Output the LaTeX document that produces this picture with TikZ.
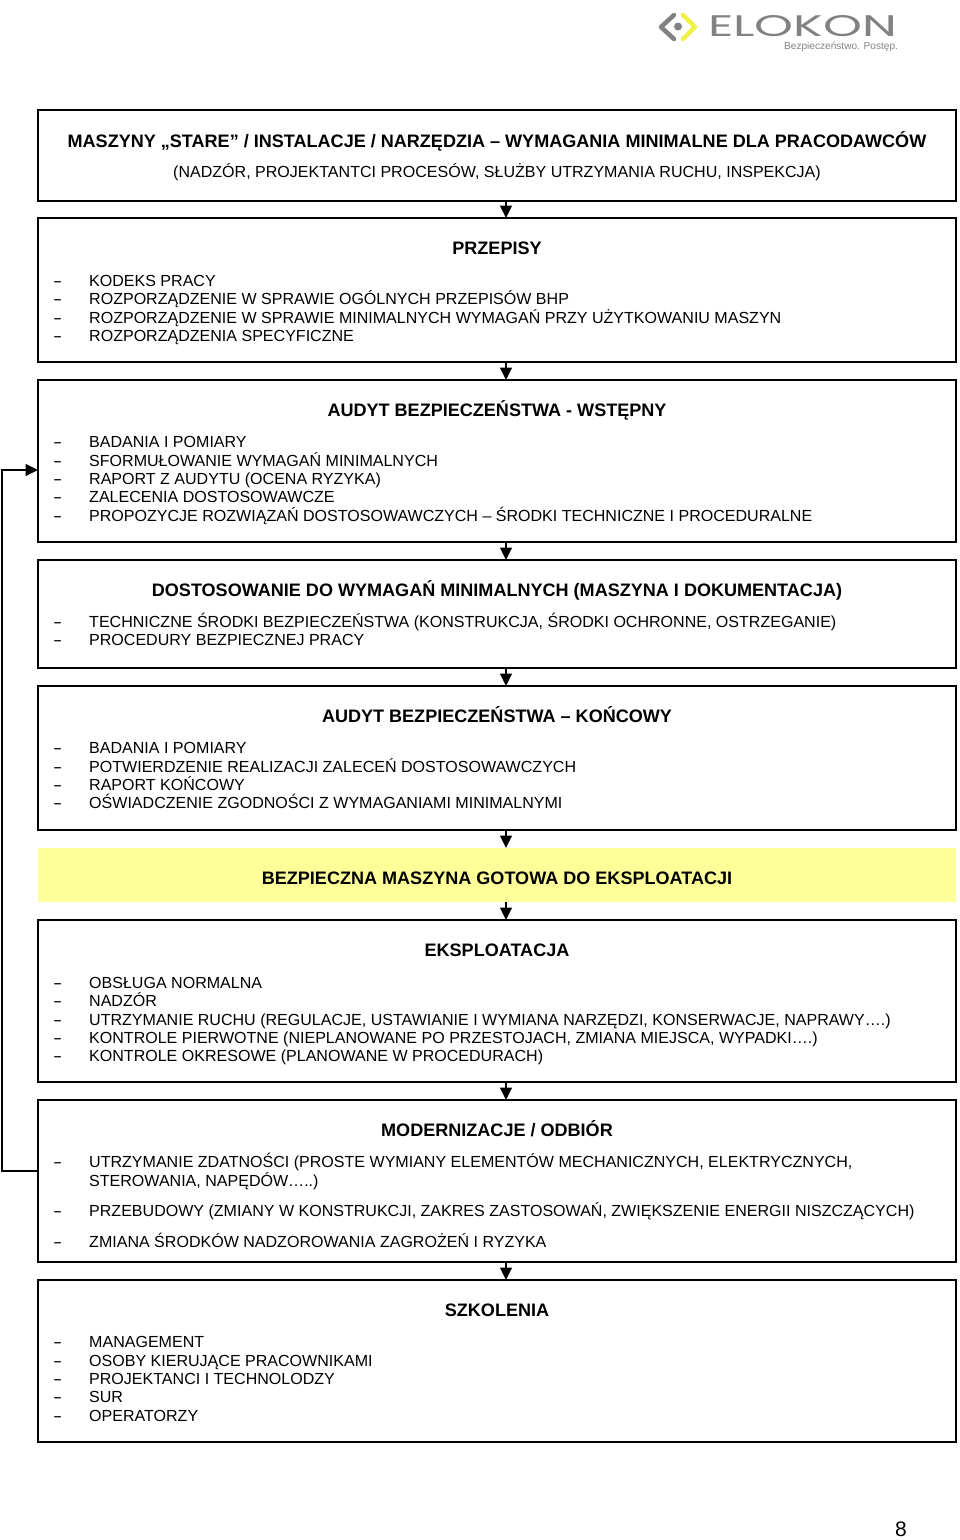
\documentclass[tikz,border=0pt]{standalone}
\usepackage{fontspec}
\setmainfont{Liberation Sans}
\newfontfamily\logofont{Poppins}
\usetikzlibrary{arrows.meta}
\definecolor{logogrey}{RGB}{130,130,130}
\definecolor{logoyel}{RGB}{240,240,70}
\definecolor{boxyel}{RGB}{255,255,153}
\tikzset{
 stepbox/.style={draw=black,line width=1.5pt,fill=white,anchor=north west,minimum width=918pt,inner sep=0pt,outer sep=0pt},
 goalbox/.style={stepbox,draw=none,fill=boxyel},
 arr/.style={line width=1.5pt,-{Triangle[length=12.5pt,width=12pt]}},
 head/.style={font=\fontsize{18.05}{18}\selectfont\bfseries,anchor=base,inner sep=0pt},
 sub/.style={font=\fontsize{16.04}{16}\selectfont,anchor=base,inner sep=0pt},
 itm/.style={font=\fontsize{16.04}{16}\selectfont,anchor=base west,inner sep=0pt},
}
\newcommand\li[3]{\node[itm] (#1d) at (53,#2) {\scalebox{1.7}[1]{-}};\node[itm] (#1) at (89,#2) {#3};}
\newcommand\bx[4][stepbox]{\node[#1,minimum height=#4pt] (#2) at (38,#3) {};}
\begin{document}
\begin{tikzpicture}[x=1pt,y=-1pt]
\useasboundingbox (0,0) rectangle (960,1540);
% logo
\draw[logogrey,line width=4.5pt,line cap=round,line join=round] (674,15) -- (661,27) -- (674,39);
\draw[logoyel,line width=4.5pt,line cap=round,line join=round] (683,15) -- (695,27) -- (683,39);
\fill[logogrey] (678,26.5) circle (4);
\node[anchor=south west,inner sep=0pt,text=logogrey] (logo) at (708,36.5) {\resizebox{189pt}{21pt}{\logofont ELOKON}};
\node[anchor=base west,inner sep=0pt,text=logogrey,font=\fontsize{10.1}{10}\selectfont] (tag) at (784,49.5) {Bezpieczeństwo. Postęp.};
% boxes
\bx{b1}{110}{91}
\bx{b2}{218}{144}
\bx{b3}{380}{162}
\bx{b4}{560}{108}
\bx{b5}{686}{144}
\bx[goalbox]{b6}{848}{54}
\bx{b7}{920}{162}
\bx{b8}{1100}{162}
\bx{b9}{1280}{162}
% arrows
\coordinate (ax) at (506,0);
\foreach \a/\b in {b1/b2,b2/b3,b3/b4,b4/b5,b5/b6,b6/b7,b7/b8,b8/b9}
  \draw[arr] (\a.south -| ax) -- (\b.north -| ax);
\coordinate (backout) at (38,1171);
\coordinate (backin) at (38,470);
\draw[arr] (backout) -- (2,1171) |- (backin);
% box 1
\node[head] (t1) at (497,147) {MASZYNY „STARE” / INSTALACJE / NARZĘDZIA – WYMAGANIA MINIMALNE DLA PRACODAWCÓW};
\node[sub] (t1b) at (497,177) {(NADZÓR, PROJEKTANTCI PROCESÓW, SŁUŻBY UTRZYMANIA RUCHU, INSPEKCJA)};
% box 2
\node[head] (t2) at (497,254) {PRZEPISY};
\li{a1}{286}{KODEKS PRACY}
\li{a2}{304}{ROZPORZĄDZENIE W SPRAWIE OGÓLNYCH PRZEPISÓW BHP}
\li{a3}{323}{ROZPORZĄDZENIE W SPRAWIE MINIMALNYCH WYMAGAŃ PRZY UŻYTKOWANIU MASZYN}
\li{a4}{341}{ROZPORZĄDZENIA SPECYFICZNE}
% box 3
\node[head] (t3) at (497,416) {AUDYT BEZPIECZEŃSTWA - WSTĘPNY};
\li{c1}{447}{BADANIA I POMIARY}
\li{c2}{466}{SFORMUŁOWANIE WYMAGAŃ MINIMALNYCH}
\li{c3}{484}{RAPORT Z AUDYTU (OCENA RYZYKA)}
\li{c4}{502}{ZALECENIA DOSTOSOWAWCZE}
\li{c5}{521}{PROPOZYCJE ROZWIĄZAŃ DOSTOSOWAWCZYCH – ŚRODKI TECHNICZNE I PROCEDURALNE}
% box 4
\node[head] (t4) at (497,596) {DOSTOSOWANIE DO WYMAGAŃ MINIMALNYCH (MASZYNA I DOKUMENTACJA)};
\li{e1}{627}{TECHNICZNE ŚRODKI BEZPIECZEŃSTWA (KONSTRUKCJA, ŚRODKI OCHRONNE, OSTRZEGANIE)}
\li{e2}{645}{PROCEDURY BEZPIECZNEJ PRACY}
% box 5
\node[head] (t5) at (497,722) {AUDYT BEZPIECZEŃSTWA – KOŃCOWY};
\li{f1}{753}{BADANIA I POMIARY}
\li{f2}{772}{POTWIERDZENIE REALIZACJI ZALECEŃ DOSTOSOWAWCZYCH}
\li{f3}{790}{RAPORT KOŃCOWY}
\li{f4}{808}{OŚWIADCZENIE ZGODNOŚCI Z WYMAGANIAMI MINIMALNYMI}
% box 6
\node[head] (t6) at (497,884) {BEZPIECZNA MASZYNA GOTOWA DO EKSPLOATACJI};
% box 7
\node[head] (t7) at (497,956) {EKSPLOATACJA};
\li{g1}{988}{OBSŁUGA NORMALNA}
\li{g2}{1006}{NADZÓR}
\li{g3}{1025}{UTRZYMANIE RUCHU (REGULACJE, USTAWIANIE I WYMIANA NARZĘDZI, KONSERWACJE, NAPRAWY….)}
\li{g4}{1043}{KONTROLE PIERWOTNE (NIEPLANOWANE PO PRZESTOJACH, ZMIANA MIEJSCA, WYPADKI….)}
\li{g5}{1061}{KONTROLE OKRESOWE (PLANOWANE W PROCEDURACH)}
% box 8
\node[head] (t8) at (497,1136) {MODERNIZACJE / ODBIÓR};
\li{h1}{1167}{UTRZYMANIE ZDATNOŚCI (PROSTE WYMIANY ELEMENTÓW MECHANICZNYCH, ELEKTRYCZNYCH,}
\node[itm] (h1b) at (89,1186) {STEROWANIA, NAPĘDÓW…..)};
\li{h2}{1216}{PRZEBUDOWY (ZMIANY W KONSTRUKCJI, ZAKRES ZASTOSOWAŃ, ZWIĘKSZENIE ENERGII NISZCZĄCYCH)}
\li{h3}{1247}{ZMIANA ŚRODKÓW NADZOROWANIA ZAGROŻEŃ I RYZYKA}
% box 9
\node[head] (t9) at (497,1316) {SZKOLENIA};
\li{k1}{1347}{MANAGEMENT}
\li{k2}{1366}{OSOBY KIERUJĄCE PRACOWNIKAMI}
\li{k3}{1384}{PROJEKTANCI I TECHNOLODZY}
\li{k4}{1402}{SUR}
\li{k5}{1421}{OPERATORZY}
% page number
\node[anchor=base,inner sep=0pt,font=\fontsize{21}{21}\selectfont] (pg) at (901,1536) {8};
\end{tikzpicture}
\end{document}
